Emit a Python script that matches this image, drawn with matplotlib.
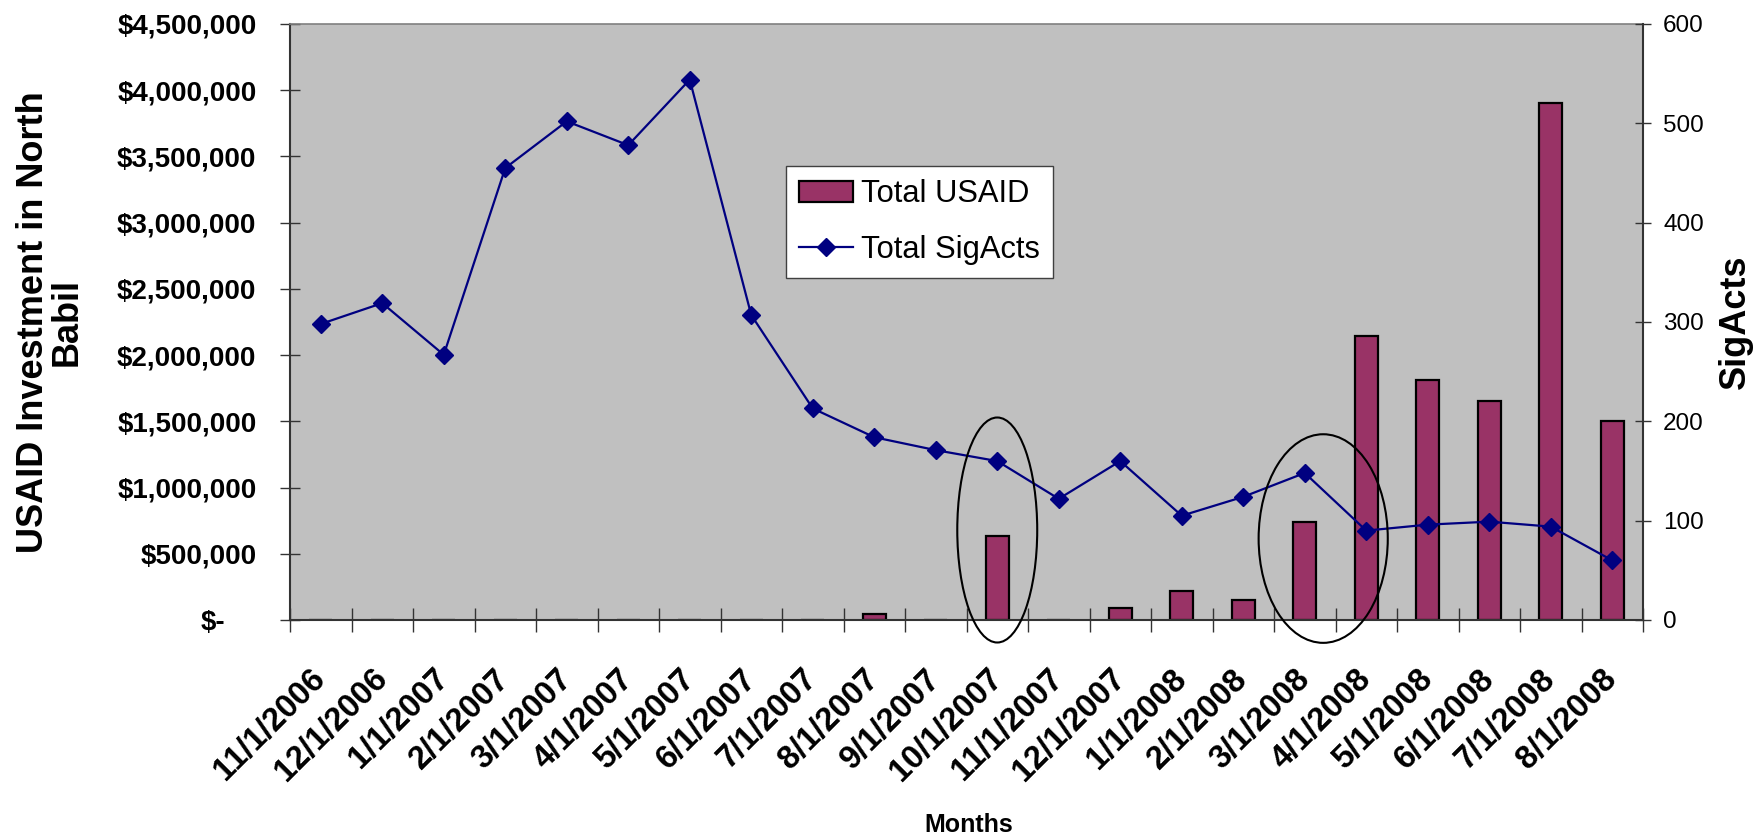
import matplotlib
matplotlib.use('Agg')
import matplotlib.pyplot as plt
import numpy as np
from matplotlib.patches import Ellipse
from matplotlib.transforms import ScaledTranslation

# ---------------- data ----------------
months = ['11/1/2006', '12/1/2006', '1/1/2007', '2/1/2007', '3/1/2007', '4/1/2007',
          '5/1/2007', '6/1/2007', '7/1/2007', '8/1/2007', '9/1/2007', '10/1/2007',
          '11/1/2007', '12/1/2007', '1/1/2008', '2/1/2008', '3/1/2008', '4/1/2008',
          '5/1/2008', '6/1/2008', '7/1/2008', '8/1/2008']
usaid = [0, 0, 0, 0, 0, 0, 0, 0, 0, 45000, 0, 636000, 0, 93000, 217000, 149000,
         742000, 2146000, 1812000, 1656000, 3905000, 1500000]
sigacts = [298, 319, 267, 455, 502, 478, 544, 307, 213, 184, 171, 160, 122, 160,
           105, 124, 148, 90, 96, 99, 94, 60]
usd_ticks = [0, 500000, 1000000, 1500000, 2000000, 2500000, 3000000, 3500000, 4000000, 4500000]
usd_labels = ['$-', '$500,000', '$1,000,000', '$1,500,000', '$2,000,000', '$2,500,000',
              '$3,000,000', '$3,500,000', '$4,000,000', '$4,500,000']
sig_ticks = [0, 100, 200, 300, 400, 500, 600]
sig_labels = ['0', '100', '200', '300', '400', '500', '600']
series_names = ['Total USAID', 'Total SigActs']
# highlighted regions (category centre, width in categories, centre/height in SigActs units)
highlights = [(11.0, 1.3, 90.6, 226.5), (16.3, 2.1, 82.0, 210.0)]

plt.rcParams['font.family'] = ['Liberation Sans', 'DejaVu Sans']

W, H = 1762, 839
fig = plt.figure(figsize=(W / 100, H / 100), dpi=100)
fig.patch.set_facecolor('white')
ax = fig.add_axes([290 / W, 1 - 620 / H, 1353 / W, 596 / H])
ax.set_facecolor('#C0C0C0')

x = np.arange(len(months))
bars = ax.bar(x, usaid, width=0.37, color='#993366', edgecolor='black', linewidth=1.6, zorder=2)
ax.set_xlim(-0.5, len(months) - 0.5)
ax.set_ylim(0, 4500000)
ax.set_yticks(usd_ticks)
ax.set_yticklabels(usd_labels, fontsize=20, fontweight='bold')
ax.tick_params(axis='y', direction='inout', length=14.4, width=1.0, pad=17, color='#333333')

ax.set_xticks(np.arange(-0.5, len(months)))
ax.set_xticklabels([])
ax.set_xticks(x, minor=True)
ax.tick_params(axis='x', which='major', direction='inout', length=17, width=1.0, color='#333333')
ax.tick_params(axis='x', which='minor', length=0, pad=39)
ax.set_xticklabels(months, minor=True, rotation=45, ha='right', va='center',
                   rotation_mode='anchor', fontsize=23.5, fontweight='bold')

for s in ['left', 'bottom']:
    ax.spines[s].set_color('#333333')
    ax.spines[s].set_linewidth(1.5)
ax.spines['top'].set_color('#808080')
ax.spines['top'].set_linewidth(1.2)
ax.spines['right'].set_visible(False)

ax2 = ax.twinx()
ax2.patch.set_visible(False)
line, = ax2.plot(x, sigacts, color='#000080', lw=1.6, marker='D', ms=9.5, zorder=3)
ax2.set_ylim(0, 600)
ax2.set_yticks(sig_ticks)
ax2.set_yticklabels(sig_labels, fontsize=17.5)
ax2.tick_params(axis='y', direction='inout', length=12, width=1.0, pad=8.4, color='#333333')
for s in ['left', 'bottom', 'top']:
    ax2.spines[s].set_visible(False)
ax2.spines['right'].set_color('#333333')
ax2.spines['right'].set_linewidth(1.5)

# the "$-" label sits a little left of the others (accounting format)
zero_lbl = ax.yaxis.get_major_ticks()[0].label1
zero_lbl.set_transform(zero_lbl.get_transform() + ScaledTranslation(-31 / 100, 0, fig.dpi_scale_trans))

for cx, w, cy, h in highlights:
    ax2.add_patch(Ellipse((cx, cy), w, h, fill=False, ec='black', lw=1.5, clip_on=False, zorder=4))

leg = ax2.legend([bars, line], series_names, loc='upper left',
                 bbox_to_anchor=(0.3666, 0.7617), borderaxespad=0, fontsize=22.2,
                 frameon=True, fancybox=False, edgecolor='#404040', framealpha=1,
                 handlelength=1.75, handletextpad=0.25, labelspacing=0.82, borderpad=0.43)
leg.get_frame().set_linewidth(1.0)

fig.text(50 / W, 1 - 322 / H, 'USAID Investment in North\nBabil', rotation=90,
         ha='center', va='center', multialignment='center', fontsize=26,
         fontweight='bold', linespacing=0.95)
fig.text(1735 / W, 1 - 322 / H, 'SigActs', rotation=90, ha='center', va='center',
         fontsize=26, fontweight='bold')
fig.text(969 / W, 1 - 825 / H, 'Months', ha='center', va='center', fontsize=18,
         fontweight='bold')

fig.savefig('out.png', dpi=100, facecolor='white')
